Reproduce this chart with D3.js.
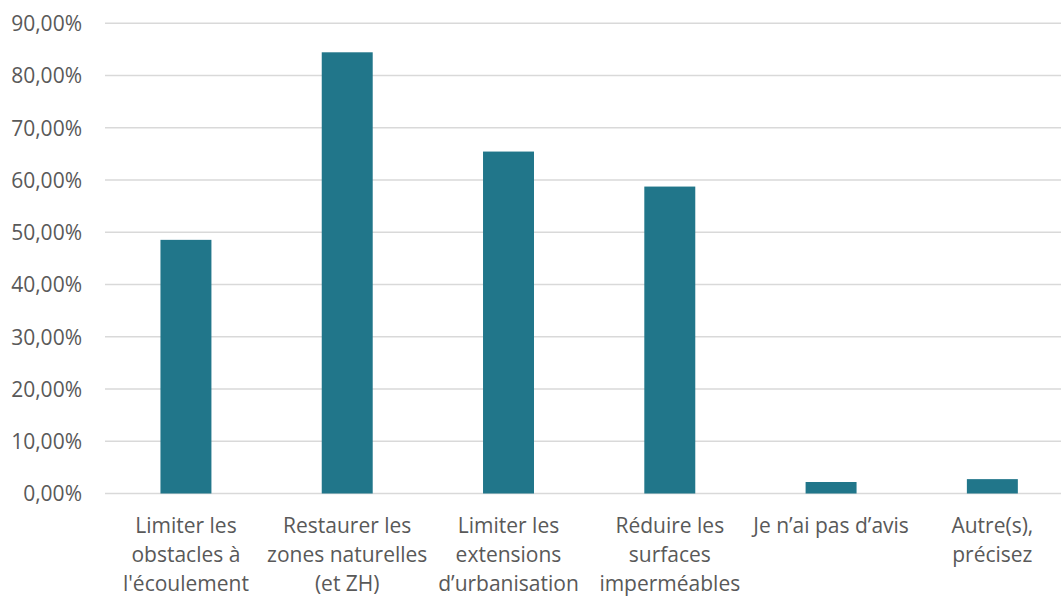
<!DOCTYPE html>
<html><head><meta charset="utf-8">
<script src="https://cdn.jsdelivr.net/npm/d3@7"></script>
<style>html,body{margin:0;padding:0;background:#fff;} svg{display:block;}</style>
</head><body>
<svg id="chart" width="1061" height="610"></svg>
<script>
const categories = [
  ["Limiter les", "obstacles à", "l'écoulement"],
  ["Restaurer les", "zones naturelles", "(et ZH)"],
  ["Limiter les", "extensions", "d’urbanisation"],
  ["Réduire les", "surfaces", "imperméables"],
  ["Je n’ai pas d’avis"],
  ["Autre(s),", "précisez"]
];
const values = [48.55, 84.45, 65.45, 58.75, 2.2, 2.75];
const yTicks = [0, 10, 20, 30, 40, 50, 60, 70, 80, 90];

const svg = d3.select("#chart");
const font = "'Open Sans', sans-serif";
const textColor = "#595959";
const barColor = "#21768a";

const x = d3.scaleBand().domain(d3.range(categories.length)).range([105.3, 1073]).paddingInner(0.684).paddingOuter(0.342);
const y = d3.scaleLinear().domain([0, 90]).range([493.5, 23.3]);

// gridlines
svg.append("g").selectAll("line").data(yTicks).join("line")
  .attr("x1", 105).attr("x2", 1061)
  .attr("y1", d => y(d)).attr("y2", d => y(d))
  .attr("stroke", "#d9d9d9").attr("stroke-width", 1.5);

// y axis labels
const yAxis = d3.axisLeft(y).tickValues(yTicks).tickSize(0).tickPadding(0)
  .tickFormat(d => d.toFixed(2).replace(".", ",") + "%");
const gy = svg.append("g").attr("transform", "translate(82,0)").call(yAxis);
gy.select(".domain").remove();
gy.selectAll("text").attr("font-family", font).attr("font-size", 21).attr("fill", textColor).attr("dy", "0.35em");

// bars
svg.append("g").selectAll("rect").data(values).join("rect")
  .attr("x", (d, i) => x(i)).attr("width", x.bandwidth())
  .attr("y", d => y(d)).attr("height", d => y(0) - y(d))
  .attr("fill", barColor);

// x labels
const gx = svg.append("g").selectAll("text").data(categories).join("text")
  .attr("x", (d, i) => x(i) + x.bandwidth() / 2)
  .attr("y", 526)
  .attr("text-anchor", "middle")
  .attr("font-family", font).attr("font-size", 21).attr("fill", textColor);
gx.selectAll("tspan").data(d => d).join("tspan")
  .attr("x", function() { return d3.select(this.parentNode).attr("x"); })
  .attr("dy", (d, i) => i === 0 ? "0.35em" : "29px")
  .text(d => d);
</script>
</body></html>
